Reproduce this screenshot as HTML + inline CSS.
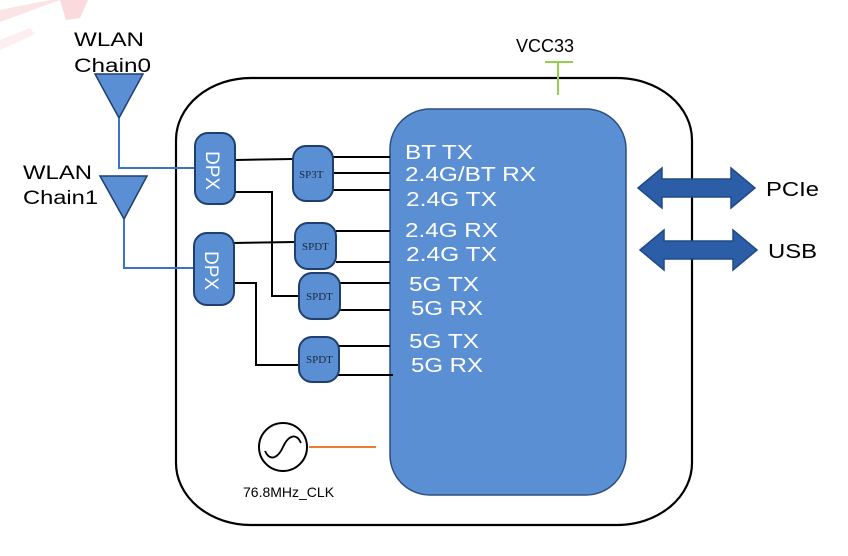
<!DOCTYPE html>
<html><head><meta charset="utf-8"><style>
html,body{margin:0;padding:0;background:#fff;width:848px;height:556px;overflow:hidden}
svg{display:block}
text{font-family:"Liberation Sans",sans-serif}
</style></head><body>
<svg width="848" height="556" viewBox="0 0 848 556" xmlns="http://www.w3.org/2000/svg">
<polygon points="0,10 50,0 60,0 0,22" fill="#fbe4e6"/>
<polygon points="0,40 30,28 35,34 0,50" fill="#fdeef0"/>
<polygon points="60,0 88,0 80,18 66,20" fill="#fadadd"/>
<rect x="176" y="78" width="516" height="447" rx="75" ry="62" fill="none" stroke="#000" stroke-width="2.2"/>
<rect x="390" y="109" width="236" height="386" rx="40" ry="40" fill="#5b8fd4" stroke="#2d4f80" stroke-width="1.5"/>
<line x1="545" y1="62" x2="573" y2="62" stroke="#92d050" stroke-width="2"/>
<line x1="558" y1="62" x2="558" y2="95" stroke="#92d050" stroke-width="2"/>
<text x="516" y="52" font-size="18">VCC33</text>
<text x="74" y="46" font-size="19" textLength="70" lengthAdjust="spacingAndGlyphs">WLAN</text>
<text x="74" y="72" font-size="19" textLength="77" lengthAdjust="spacingAndGlyphs">Chain0</text>
<polygon points="95,74 143,74 119,118" fill="#5b8fd4" stroke="#1f3f6e" stroke-width="1.5"/>
<text x="23" y="179" font-size="19" textLength="69" lengthAdjust="spacingAndGlyphs">WLAN</text>
<text x="23" y="204" font-size="19" textLength="75" lengthAdjust="spacingAndGlyphs">Chain1</text>
<polygon points="100,176 147,176 124,219" fill="#5b8fd4" stroke="#1f3f6e" stroke-width="1.5"/>
<polyline points="119,118 119,168 195,168" fill="none" stroke="#3a75c4" stroke-width="2"/>
<polyline points="124,219 124,268 194,268" fill="none" stroke="#3a75c4" stroke-width="2"/>
<g stroke="#000" stroke-width="2" fill="none">
<line x1="235" y1="160" x2="293" y2="159"/>
<polyline points="235,192 272,192 272,296 299,296"/>
<line x1="232" y1="243" x2="295" y2="242"/>
<polyline points="234,283 256,283 256,365 299,365"/>
<line x1="333" y1="157" x2="390" y2="157"/>
<line x1="333" y1="173" x2="390" y2="173"/>
<line x1="333" y1="190" x2="390" y2="190"/>
<line x1="336" y1="231" x2="390" y2="231"/>
<line x1="336" y1="262" x2="390" y2="262"/>
<line x1="340" y1="283" x2="390" y2="283"/>
<line x1="338" y1="310" x2="390" y2="310"/>
<line x1="339" y1="346" x2="390" y2="346"/>
<line x1="338" y1="375" x2="393" y2="375"/>
</g>
<g fill="#5b8fd4" stroke="#1f3f6e" stroke-width="2">
<rect x="195" y="133" width="40" height="71" rx="13"/>
<rect x="194" y="233" width="40" height="72" rx="13"/>
<rect x="293" y="146" width="40" height="55" rx="13"/>
<rect x="295" y="223" width="41" height="46" rx="13"/>
<rect x="299" y="273" width="41" height="46" rx="13"/>
<rect x="299" y="337" width="40" height="45" rx="13"/>
</g>
<g fill="#fff" font-size="19">
<text transform="translate(206,151) rotate(90)">DPX</text>
<text transform="translate(205,251) rotate(90)">DPX</text>
</g>
<g fill="#1a2a40" font-size="11">
<text x="299" y="178" style="font-family:'Liberation Serif',serif">SP3T</text>
<text x="302" y="250" style="font-family:'Liberation Serif',serif">SPDT</text>
<text x="306" y="300" style="font-family:'Liberation Serif',serif">SPDT</text>
<text x="306" y="363" style="font-family:'Liberation Serif',serif">SPDT</text>
</g>
<g fill="#fff" font-size="20" lengthAdjust="spacingAndGlyphs">
<text x="405" y="159" textLength="68" lengthAdjust="spacingAndGlyphs">BT TX</text>
<text x="405" y="181" textLength="131" lengthAdjust="spacingAndGlyphs">2.4G/BT RX</text>
<text x="406" y="206" textLength="91" lengthAdjust="spacingAndGlyphs">2.4G TX</text>
<text x="405" y="237" textLength="93" lengthAdjust="spacingAndGlyphs">2.4G RX</text>
<text x="406" y="261" textLength="91" lengthAdjust="spacingAndGlyphs">2.4G TX</text>
<text x="409" y="291" textLength="70" lengthAdjust="spacingAndGlyphs">5G TX</text>
<text x="411" y="315" textLength="72" lengthAdjust="spacingAndGlyphs">5G RX</text>
<text x="409" y="348" textLength="70" lengthAdjust="spacingAndGlyphs">5G TX</text>
<text x="411" y="372" textLength="72" lengthAdjust="spacingAndGlyphs">5G RX</text>
</g>
<g fill="#2b5ea6" stroke="#1f4a85" stroke-width="1.5">
<polygon points="638,188 662,168 662,179 731,179 731,168 755,188 731,208 731,197 662,197 662,208"/>
<polygon points="640,250 664,230 664,241 733,241 733,230 757,250 733,270 733,259 664,259 664,270"/>
</g>
<text x="766" y="196" font-size="20" textLength="53" lengthAdjust="spacingAndGlyphs">PCIe</text>
<text x="768" y="258" font-size="20" textLength="49" lengthAdjust="spacingAndGlyphs">USB</text>
<circle cx="283" cy="447" r="24" fill="none" stroke="#000" stroke-width="2"/>
<path d="M265,451 C270,462 278,458 283,447 C288,436 296,432 301,443" fill="none" stroke="#000" stroke-width="1.8"/>
<line x1="309" y1="447" x2="376" y2="447" stroke="#ed7d31" stroke-width="2"/>
<text x="243" y="497" font-size="14">76.8MHz_CLK</text>
</svg>
</body></html>
